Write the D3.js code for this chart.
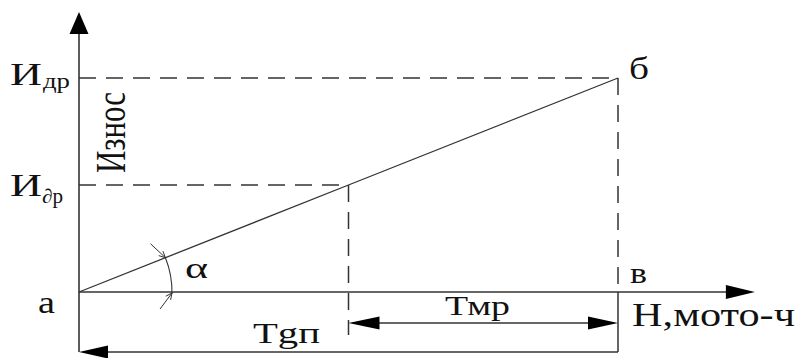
<!DOCTYPE html>
<html><head><meta charset="utf-8">
<script src="https://cdn.jsdelivr.net/npm/d3@7"></script>
</head><body style="margin:0">
<script>
// ---- data ----
const hours = [0, 5, 10];          // a, intermediate (Т∂р), б/в (Тgп)
const wear = [0, 5, 10];           // 0, И∂р, Идр
const yTickValues = [10, 5];
const yTickMain = ["И", "И"];
const yTickSub = ["др", "∂р"];
const axisMaxX = 12.54;
const axisMaxY = 13.08;
const xAxisTitle = "Н,мото-ч";
const yAxisTitle = "Износ";
const pointLabels = ["а", "б", "в"];
const dimLabels = ["Тgп", "Тмр"];
const angleLabel = "α";

const W = 797, H = 358;
const svg = d3.select("body").append("svg").attr("width", W).attr("height", H).style("display", "block");
const x = d3.scaleLinear().domain([0, 10]).range([79, 618]);
const y = d3.scaleLinear().domain([0, 10]).range([292, 78]);
const ink = "#333", txt = "#111";

function tri(tx, ty, dir, len, half) {
  let p;
  if (dir === "up") p = [[tx, ty], [tx - half, ty + len], [tx + half, ty + len]];
  if (dir === "right") p = [[tx, ty], [tx - len, ty - half], [tx - len, ty + half]];
  if (dir === "left") p = [[tx, ty], [tx + len, ty - half], [tx + len, ty + half]];
  svg.append("path").attr("d", d3.line()(p) + "Z").attr("fill", "#000");
}
function line(x1, y1, x2, y2, w, dash) {
  const l = svg.append("line").attr("x1", x1).attr("y1", y1).attr("x2", x2).attr("y2", y2)
    .attr("stroke", ink).attr("stroke-width", w || 1.5);
  if (dash) l.attr("stroke-dasharray", dash);
  return l;
}
function label(s, lx, by, size, width) {
  const g = svg.append("g");
  const t = g.append("text").attr("x", 0).attr("y", 0)
    .attr("font-family", "Liberation Serif").attr("font-size", size).attr("fill", txt).text(s);
  const natural = t.node().getComputedTextLength() || width;
  g.attr("transform", `translate(${lx},${by}) scale(${width / natural},1)`);
  return t;
}

const x0 = x(0), y0 = y(0);
const yBottom = 352, yTmr = 323;

// axes
line(x0, y(axisMaxY) + 20, x0, yBottom, 1.6);
tri(x0, y(axisMaxY), "up", 22, 9.5);
line(x0, y0, x(axisMaxX) - 20, y0, 1.6);
tri(x(axisMaxX), y0, "right", 29, 7);

// main wear line
svg.append("path").datum(hours.map((h, i) => [h, wear[i]]))
  .attr("d", d3.line().x(d => x(d[0])).y(d => y(d[1])))
  .attr("fill", "none").attr("stroke", ink).attr("stroke-width", 1.3);

// dashed guides
const dash = "17,10";
line(x0, y(wear[2]), x(hours[2]), y(wear[2]), 1.5, dash);
line(x0, y(wear[1]), x(hours[1]), y(wear[1]), 1.5, dash);
line(x(hours[2]), y(wear[2]), x(hours[2]), y0, 1.5, dash);
line(x(hours[1]), y(wear[1]), x(hours[1]), 335, 1.5, dash);
line(x(hours[2]), y0, x(hours[2]), yBottom, 1.5);

// dimension arrows
line(x0 + 20, yBottom, x(hours[2]), yBottom, 1.5);
tri(x0, yBottom, "left", 29, 6.5);
line(x(hours[1]) + 20, yTmr, x(hours[2]) - 20, yTmr, 1.5);
tri(x(hours[1]), yTmr, "left", 31, 6.5);
tri(x(hours[2]), yTmr, "right", 30, 6.5);

// angle arc
const ang = Math.atan2(y0 - y(wear[2]), x(hours[2]) - x0);
const R = 93;
const arc = d3.arc().innerRadius(R).outerRadius(R)
  .startAngle(Math.PI / 2 - ang).endAngle(Math.PI / 2 + 0.02);
svg.append("path").attr("d", arc()).attr("transform", `translate(${x0},${y0})`)
  .attr("fill", "none").attr("stroke", ink).attr("stroke-width", 1.1);
function openArrow(fx, fy, tx, ty) {
  line(fx, fy, tx, ty, 1);
  const a = Math.atan2(ty - fy, tx - fx), L = 7, s = 0.45;
  line(tx, ty, tx - L * Math.cos(a - s), ty - L * Math.sin(a - s), 1);
  line(tx, ty, tx - L * Math.cos(a + s), ty - L * Math.sin(a + s), 1);
}
const pUp = [x0 + R * Math.cos(ang), y0 - R * Math.sin(ang)];
openArrow(pUp[0] - 15, pUp[1] - 14, pUp[0], pUp[1]);
openArrow(x0 + R - 12, y0 + 17, x0 + R, y0 + 1);

// y tick labels
yTickValues.forEach((v, i) => {
  label(yTickMain[i], 10, y(v) + 7 + (i === 0 ? 0 : 4), 32, 32);
  label(yTickSub[i], i === 0 ? 43 : 42, y(v) + (i === 0 ? 10 : 18), 20, i === 0 ? 27 : 21);
});

// y axis title (rotated)
{
  const g = svg.append("g");
  const t = g.append("text").attr("font-family", "Liberation Serif").attr("font-size", 31).attr("fill", txt).text(yAxisTitle);
  const natural = t.node().getComputedTextLength() || 81;
  g.attr("transform", `translate(125,173) scale(1.35,${81 / natural}) rotate(-90)`);
}

// x axis title
label(xAxisTitle, 632, 326, 33, 163);

// point labels
label(pointLabels[0], 38, 313, 32, 17);
label(pointLabels[1], 629, 79, 32, 20);
label(pointLabels[2], 630, 283, 30, 17);
label(angleLabel, 185, 278, 30, 23);

// dimension labels
label(dimLabels[0], 253, 343, 30, 67);
label(dimLabels[1], 445, 315, 27, 65);
</script>
</body></html>
